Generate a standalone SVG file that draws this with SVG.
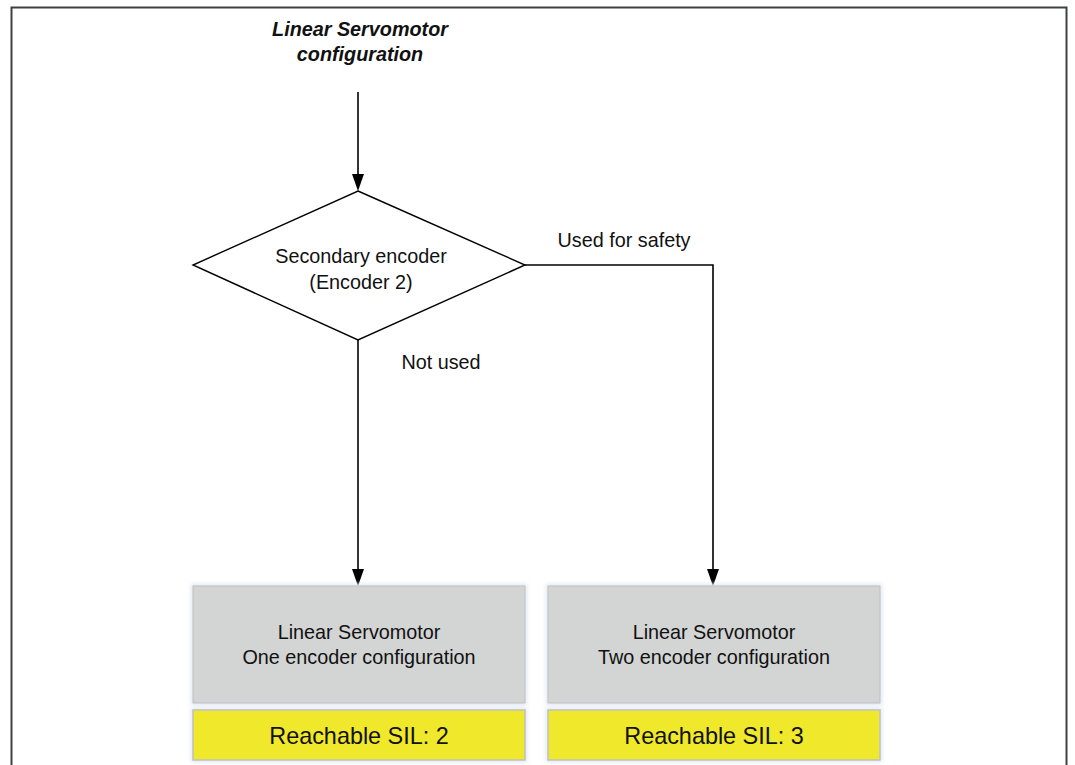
<svg xmlns="http://www.w3.org/2000/svg" width="1075" height="765" viewBox="0 0 1075 765">
<defs>
<filter id="sh" x="-5%" y="-10%" width="110%" height="120%">
<feGaussianBlur stdDeviation="2"/>
</filter>
</defs>
<style>
.t{font-family:"Liberation Sans",Arial,sans-serif;fill:#111;text-anchor:middle}
.lbl{font-size:19.8px}
.ttl{font-size:19.8px;font-weight:bold;font-style:italic}
.sil{font-size:23.4px}
.conn{fill:none;stroke:#000;stroke-width:1.6}
.head{fill:#000}
.grey{fill:#d3d4d4;stroke:#bfc1c2;stroke-width:1}
.yel{fill:#f0e82a;stroke:#bfc1c2;stroke-width:1.5}
.shadow{fill:#dfe6f2;filter:url(#sh)}
</style>
<rect width="1075" height="765" fill="#fff"/>
<path d="M11.5,766 V7.5 H1066.5 V766" fill="none" stroke="#3d4144" stroke-width="2"/>

<g id="title">
<text class="t ttl" x="360" y="36">Linear Servomotor</text>
<text class="t ttl" x="360" y="61">configuration</text>
</g>

<g id="connectors">
<path class="conn" d="M358,92 V174"/>
<path class="head" d="M352,174 L364,174 L358,191 Z"/>
<path class="conn" d="M358,340 V569"/>
<path class="head" d="M352,569 L364,569 L358,586 Z"/>
<path class="conn" d="M525,265 H713 V569"/>
<path class="head" d="M707,569 L719,569 L713,586 Z"/>
<text class="t lbl" x="624" y="247">Used for safety</text>
<text class="t lbl" x="441" y="369">Not used</text>
</g>

<g id="decision">
<polygon points="358,191 525,265 358,340 193,265" fill="#fff" stroke="#000" stroke-width="1.4"/>
<text class="t lbl" x="361" y="263">Secondary encoder</text>
<text class="t lbl" x="361" y="289">(Encoder 2)</text>
</g>

<g id="box-one">
<rect class="shadow" x="191" y="584" width="336" height="121"/>
<rect class="grey" x="193" y="586" width="332" height="117"/>
<text class="t lbl" x="359" y="639">Linear Servomotor</text>
<text class="t lbl" x="359" y="664">One encoder configuration</text>
</g>
<g id="sil-two">
<rect class="shadow" x="191" y="708" width="336" height="54"/>
<rect class="yel" x="193" y="710" width="332" height="50"/>
<text class="t sil" x="359" y="744">Reachable SIL: 2</text>
</g>

<g id="box-two">
<rect class="shadow" x="546" y="584" width="336" height="121"/>
<rect class="grey" x="548" y="586" width="332" height="117"/>
<text class="t lbl" x="714" y="639">Linear Servomotor</text>
<text class="t lbl" x="714" y="664">Two encoder configuration</text>
</g>
<g id="sil-three">
<rect class="shadow" x="546" y="708" width="336" height="54"/>
<rect class="yel" x="548" y="710" width="332" height="50"/>
<text class="t sil" x="714" y="744">Reachable SIL: 3</text>
</g>
</svg>
